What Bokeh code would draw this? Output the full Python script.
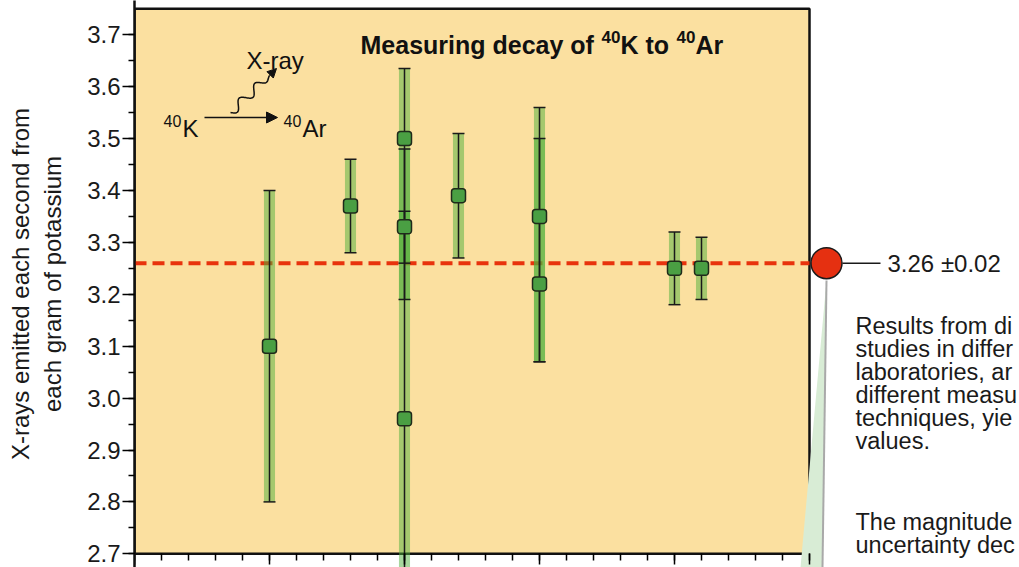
import numpy as np
from bokeh.plotting import figure
from bokeh.models import Range1d, FixedTicker, PrintfTickFormatter, Arrow, NormalHead
from bokeh.core.properties import value
from bokeh.embed import file_html
from bokeh.resources import INLINE

# ---------------- data ----------------
study_x = [5, 8, 10, 10, 10, 12, 15, 15, 20, 21]
measured = [3.10, 3.37, 3.50, 3.33, 2.96, 3.39, 3.35, 3.22, 3.25, 3.25]
lower = [2.80, 3.28, 3.26, 3.19, 2.60, 3.27, 3.07, 3.07, 3.18, 3.19]
upper = [3.40, 3.46, 3.635, 3.48, 3.36, 3.51, 3.56, 3.50, 3.32, 3.31]
mean_value = 3.26
mean_uncertainty = 0.02
y_ticks = [2.7, 2.8, 2.9, 3.0, 3.1, 3.2, 3.3, 3.4, 3.5, 3.6, 3.7]
y_minor = [2.7 + 0.05 * i for i in range(21)]
x_major = [0, 5, 10, 15, 20, 25]
x_minor = list(range(0, 26))
x_max = 25

FONT = value("Liberation Sans")

# pixel (page) -> data helpers for decorative placement
PX_PER_X = 27.0
PX_PER_Y = 519.0
def px_x(px):
    return (px - 134) / PX_PER_X
def py_y(py):
    return 3.7 - (py - 34.3) / PX_PER_Y

p = figure(width=1019, height=567, output_backend="svg", toolbar_location=None,
           x_range=Range1d(0, px_x(1019)), y_range=Range1d(py_y(567), py_y(0)),
           min_border_left=134, min_border_right=0, min_border_top=0, min_border_bottom=0)
p.outline_line_color = None
p.background_fill_color = "white"
p.border_fill_color = "white"
p.xgrid.visible = False
p.ygrid.visible = False

# plot area background
p.quad(left=[0], right=[x_max], bottom=[y_ticks[0]], top=[py_y(8.3)],
       fill_color="#fbe0a0", line_color="#111111", line_width=2.5)

# callout wedge on the right
p.patch([px_x(826), px_x(800), px_x(822)], [py_y(280), py_y(567), py_y(567)],
        fill_color="#d8ecd5", line_color=None)
p.line([px_x(826), px_x(822)], [py_y(280), py_y(567)], line_color="#a9a9a9", line_width=2)

# mean line
p.line([0, x_max], [mean_value, mean_value], line_color="#e8330d", line_width=4, line_dash="12 6")

# uncertainty bands
p.vbar(x=study_x, bottom=lower, top=upper, width=0.41, fill_color="#50af3c", fill_alpha=0.5, line_color=None)
# whiskers
p.segment(x0=study_x, y0=lower, x1=study_x, y1=upper, line_color="#1a1a1a", line_width=1.5)
p.scatter(x=study_x, y=lower, marker="dash", size=12, line_color="#1a1a1a", line_width=1.5)
p.scatter(x=study_x, y=upper, marker="dash", size=12, line_color="#1a1a1a", line_width=1.5)
# points
p.rect(x=study_x, y=measured, width=14, height=14, width_units="screen", height_units="screen",
       fill_color="#4a9f43", line_color="#1f2a1a", line_width=1.5, border_radius=3)

# mean marker and label
p.scatter(x=[px_x(826)], y=[mean_value], size=31, fill_color="#e53011", line_color="#1a1a1a", line_width=1.5)
p.line([px_x(842), px_x(880)], [mean_value, mean_value], line_color="#1a1a1a", line_width=1.5)
p.text(x=[px_x(887)], y=[mean_value], text=[f"{mean_value:.2f} \u00b1{mean_uncertainty:.2f}"],
       text_font=FONT, text_font_size="24px", text_baseline="middle", text_align="left", text_color="#1a1a1a")

para = ["Results from di", "studies in differ", "laboratories, ar",
        "different measu", "techniques, yie", "values."]
para_y = [325, 348, 371, 394, 417, 440]
p.text(x=[px_x(855)] * len(para), y=[py_y(v) for v in para_y], text=para,
       text_font=FONT, text_font_size="23.5px", text_baseline="middle", text_align="left", text_color="#1a1a1a")
para2 = ["The magnitude", "uncertainty dec"]
para2_y = [521, 544]
p.text(x=[px_x(855)] * len(para2), y=[py_y(v) for v in para2_y], text=para2,
       text_font=FONT, text_font_size="23.5px", text_baseline="middle", text_align="left", text_color="#1a1a1a")

# text helper
def txt(px, py, s, size="24px", bold=False):
    p.text(x=[px_x(px)], y=[py_y(py)], text=[s], text_font=FONT, text_font_size=size,
           text_font_style="bold" if bold else "normal", text_baseline="alphabetic",
           text_align="left", text_color="#111111")

# title pieces
txt(360, 44, "Measuring decay of", size="25px", bold=True)
txt(601, 36, "40", size="17px", bold=True)
txt(620, 44, "K to", size="25px", bold=True)
txt(676, 36, "40", size="17px", bold=True)
txt(695, 44, "Ar", size="25px", bold=True)

# inset reaction
txt(246, 60, "X-ray")
txt(163, 120, "40", size="16px")
txt(182, 128, "K")
txt(283, 120, "40", size="16px")
txt(302, 128, "Ar")
p.add_layout(Arrow(end=NormalHead(size=11, fill_color="#111111", line_color="#111111"),
                   x_start=px_x(204), y_start=py_y(117), x_end=px_x(277), y_end=py_y(117),
                   line_color="#111111", line_width=1.5))
# wavy photon path
t = np.linspace(0, 1, 80)
sx, sy, ex, ey = 230.0, 112.0, 269.0, 75.0
dx, dy = ex - sx, ey - sy
L = np.hypot(dx, dy)
nx, ny = -dy / L, dx / L
amp = 4.5 * np.sin(np.pi * 2.5 * 2 * t) * np.minimum(1, 4 * (1 - t) + 0.2)
wx = sx + dx * t + nx * amp
wy = sy + dy * t + ny * amp
p.line([px_x(v) for v in wx], [py_y(v) for v in wy], line_color="#111111", line_width=1.5)
p.add_layout(Arrow(end=NormalHead(size=9, fill_color="#111111", line_color="#111111"),
                   x_start=px_x(wx[-1]), y_start=py_y(wy[-1]), x_end=px_x(276), y_end=py_y(68),
                   line_color="#111111", line_width=1.5))

# axes
ya = p.yaxis[0]
ya.ticker = FixedTicker(ticks=y_ticks, minor_ticks=y_minor)
ya.formatter = PrintfTickFormatter(format="%.1f")
ya.major_tick_out = 12
ya.major_tick_in = 0
ya.minor_tick_out = 6
ya.minor_tick_in = 0
ya.axis_line_width = 2.5
ya.axis_line_color = "#111111"
ya.major_tick_line_width = 1.5
ya.minor_tick_line_width = 1.5
ya.major_label_standoff = 2
ya.major_label_text_font = "Liberation Sans"
ya.major_label_text_font_size = "24px"
ya.major_label_text_color = "#1a1a1a"
ya.axis_label = "X-rays emitted each second from\neach gram of potassium"
ya.axis_label_text_font = "Liberation Sans"
ya.axis_label_text_font_size = "24px"
ya.axis_label_text_font_style = "normal"
ya.axis_label_text_color = "#1a1a1a"
ya.axis_label_standoff = 18

xa = p.xaxis[0]
xa.fixed_location = y_ticks[0]
xa.ticker = FixedTicker(ticks=x_major, minor_ticks=x_minor)
xa.axis_line_color = None
xa.major_tick_out = 11
xa.major_tick_in = 0
xa.minor_tick_out = 7
xa.minor_tick_in = 0
xa.major_tick_line_width = 1.5
xa.minor_tick_line_width = 1.5
xa.major_label_text_color = None

open("out.html", "w").write(file_html(p, INLINE))
